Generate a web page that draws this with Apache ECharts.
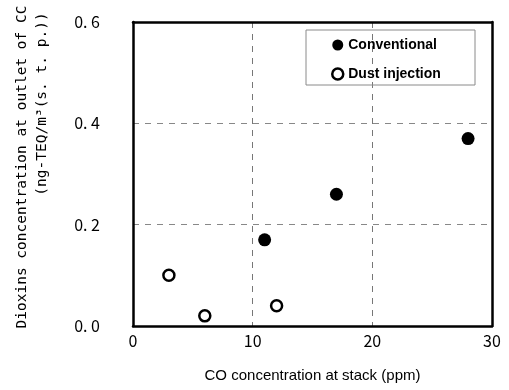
<!DOCTYPE html>
<html>
<head>
<meta charset="utf-8">
<script src="https://cdn.jsdelivr.net/npm/echarts@6/dist/echarts.min.js"></script>
<style>
html,body{margin:0;padding:0;background:#fff;}
#main{width:509px;height:390px;}
</style>
</head>
<body>
<div id="main"></div>
<script type="text/javascript">
// data
var conventionalCO = [11.0, 17.0, 28.0];
var conventionalDXN = [0.17, 0.26, 0.37];
var dustCO = [3.0, 6.0, 12.0];
var dustDXN = [0.10, 0.02, 0.04];
var xTicks = [0, 10, 20, 30];
var yTicks = [0.0, 0.2, 0.4, 0.6];

function pairs(xs, ys){
    var out = [];
    for(var i = 0; i < xs.length; i++){
        out.push([xs[i], ys[i]]);
    }
    return out;
}

var titleFont = '"DejaVu Sans Mono", monospace';
var tickFont = '"Noto Sans CJK JP", sans-serif';
var myChart = echarts.init(document.getElementById('main'));
var option = {
    backgroundColor: '#fff',
    animation: false,
    grid: { left: 133, top: 22, right: 17, bottom: 64 },
    legend: {
        left: 326,
        top: 33,
        orient: 'vertical',
        itemGap: 15,
        itemWidth: 11,
        itemHeight: 11,
        textStyle: { fontFamily: '"Liberation Sans", Arial', fontWeight: 'bold', fontSize: 14, color: '#000' },
        data: [
            { name: 'Conventional', icon: 'circle', itemStyle: { color: '#000', borderWidth: 0 } },
            { name: 'Dust injection', icon: 'circle', itemStyle: { color: '#fff', borderColor: '#000', borderWidth: 2.5 } }
        ]
    },
    graphic: [
        { type: 'rect', shape: { x: 306, y: 30, width: 169, height: 55 },
          style: { fill: 'none', stroke: '#8a8a8a', lineWidth: 1 }, z: 1 },
        { type: 'text', x: 22, y: 167, rotation: Math.PI / 2,
          style: { text: 'Dioxins concentration at outlet of CC', fontFamily: titleFont, fontSize: 14.5,
                   fill: '#000', align: 'center', verticalAlign: 'middle' } },
        { type: 'text', x: 42, y: 104, rotation: Math.PI / 2,
          style: { text: '(ng-TEQ/m\u00b3(s. t. p.))', fontFamily: titleFont, fontSize: 14.5,
                   fill: '#000', align: 'center', verticalAlign: 'middle' } }
    ],
    xAxis: [{
        type: 'value',
        min: xTicks[0],
        max: xTicks[xTicks.length - 1],
        interval: 10,
        name: 'CO concentration at stack (ppm)',
        nameLocation: 'middle',
        nameGap: 42,
        nameTextStyle: { fontFamily: '"Liberation Sans", Arial', fontSize: 15, color: '#000' },
        axisLine: { show: true, onZero: false, lineStyle: { color: '#000', width: 2.5 } },
        axisTick: { show: false },
        axisLabel: { margin: 7, fontFamily: tickFont, fontSize: 16, color: '#000' },
        splitLine: { show: true, lineStyle: { color: '#777', type: [6, 6], width: 1 } }
    }, {
        type: 'value', position: 'top', min: 0, max: 30,
        axisLine: { show: true, onZero: false, lineStyle: { color: '#000', width: 2.5 } },
        axisTick: { show: false }, axisLabel: { show: false }, splitLine: { show: false }
    }],
    yAxis: [{
        type: 'value',
        min: yTicks[0],
        max: yTicks[yTicks.length - 1],
        interval: 0.2,
        axisLine: { show: true, onZero: false, lineStyle: { color: '#000', width: 2.5 } },
        axisTick: { show: false },
        axisLabel: {
            margin: 33, fontFamily: tickFont, fontSize: 16, color: '#000',
            formatter: function(v){ return v.toFixed(1).replace('.', '. '); }
        },
        splitLine: { show: true, lineStyle: { color: '#888', type: [6, 6], width: 1 } }
    }, {
        type: 'value', position: 'right', min: 0, max: 0.6,
        axisLine: { show: true, onZero: false, lineStyle: { color: '#000', width: 2.5 } },
        axisTick: { show: false }, axisLabel: { show: false }, splitLine: { show: false }
    }],
    series: [{
        name: 'Conventional',
        type: 'scatter',
        symbol: 'circle',
        symbolSize: 13,
        itemStyle: { color: '#000', opacity: 1 },
        data: pairs(conventionalCO, conventionalDXN)
    }, {
        name: 'Dust injection',
        type: 'scatter',
        symbol: 'circle',
        symbolSize: 11,
        itemStyle: { color: '#fff', borderColor: '#000', borderWidth: 2.5, opacity: 1 },
        data: pairs(dustCO, dustDXN)
    }]
};
myChart.setOption(option);
</script>
</body>
</html>
